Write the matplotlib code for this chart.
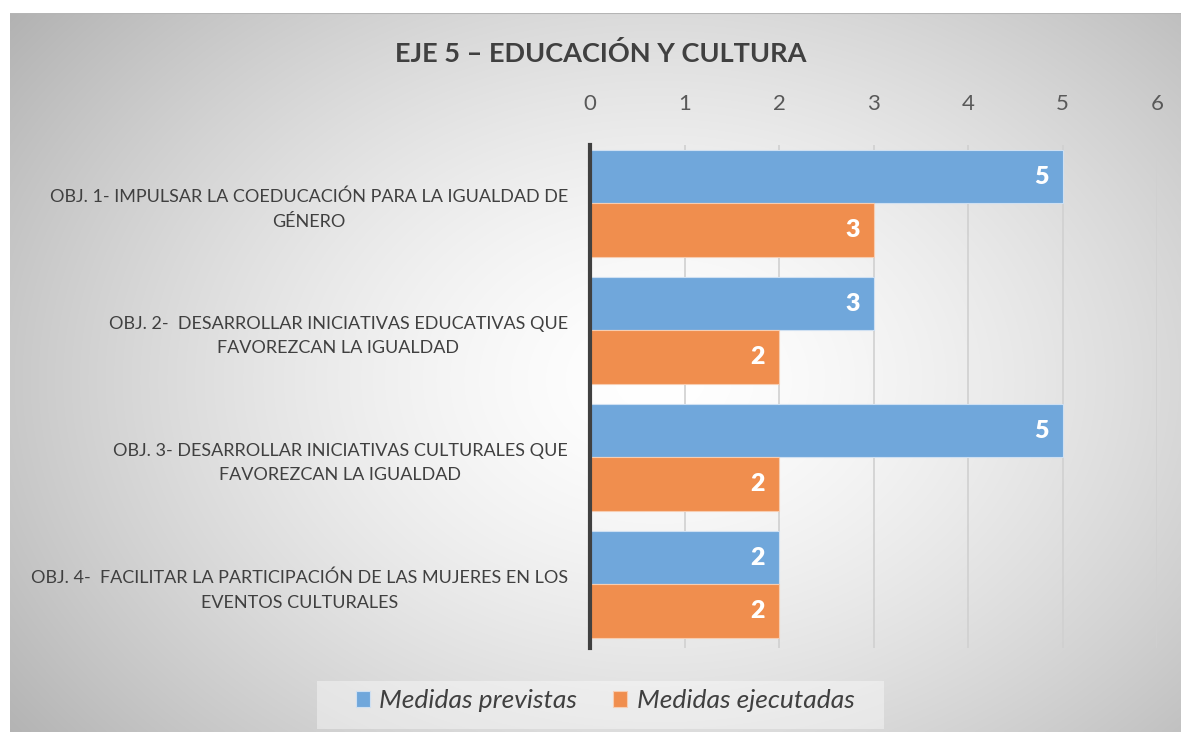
import numpy as np
import matplotlib as mpl
import matplotlib.pyplot as plt
from matplotlib.patches import Rectangle

mpl.rcParams.update({
    "font.family": ["Lato", "DejaVu Sans"],
    "text.color": "#404040",
})

categories = [
    "OBJ. 1- IMPULSAR LA COEDUCACIÓN PARA LA IGUALDAD DE\nGÉNERO",
    "OBJ. 2-  DESARROLLAR INICIATIVAS EDUCATIVAS QUE\nFAVOREZCAN LA IGUALDAD",
    "OBJ. 3- DESARROLLAR INICIATIVAS CULTURALES QUE\nFAVOREZCAN LA IGUALDAD",
    "OBJ. 4-  FACILITAR LA PARTICIPACIÓN DE LAS MUJERES EN LOS\nEVENTOS CULTURALES",
]
previstas = [5, 3, 5, 2]
ejecutadas = [3, 2, 2, 2]
series_names = ["Medidas previstas", "Medidas ejecutadas"]
colors = ["#70A7DB", "#F08E4E"]
title = "EJE 5 – EDUCACIÓN Y CULTURA"

W, H = 1181, 732
fig = plt.figure(figsize=(W / 100, H / 100), dpi=100)
fig.patch.set_facecolor("white")

# background panel with radial gradient
bg = fig.add_axes([10 / W, 0, 1 - 10 / W, 1 - 13 / H], zorder=-10)
px, py = np.meshgrid(np.linspace(10, W, 600), np.linspace(13, H, 400))
r = np.sqrt(((px - 660) / 760) ** 2 + ((py - 380) / 560) ** 2)
shade = 1.0 - 0.27 * np.clip(r, 0, 1.2) ** 1.5
bg.imshow(np.dstack([shade, shade, shade]), aspect="auto", extent=[0, 1, 0, 1],
          interpolation="bilinear")
bg.plot([0, 1], [1, 1], color="#b5b5b5", lw=1.5, transform=bg.transAxes)
bg.set_axis_off()

ax = fig.add_axes([590 / W, 1 - 648 / H, (1157 - 590) / W, (648 - 145) / H])
ax.set_facecolor("none")

y = np.arange(len(categories))
h = 0.42
b1 = ax.barh(y - h / 2, previstas, height=h, color=colors[0], edgecolor="#cfe0f2",
             linewidth=0.8, label=series_names[0], zorder=3)
b2 = ax.barh(y + h / 2, ejecutadas, height=h, color=colors[1], edgecolor="#f7cdb1",
             linewidth=0.8, label=series_names[1], zorder=3)

for bars, vals in ((b1, previstas), (b2, ejecutadas)):
    for bar, v in zip(bars, vals):
        ax.annotate(str(v), (v, bar.get_y() + bar.get_height() / 2),
                    xytext=(-10, 0), textcoords="offset points",
                    ha="right", va="center", color="white",
                    fontsize=18, fontweight="heavy", zorder=4)

ax.set_xlim(0, 6)
ax.set_ylim(3.5, -0.46)
ax.set_xticks(range(7))
ax.xaxis.tick_top()
ax.tick_params(axis="x", length=0, pad=22, labelsize=16, labelcolor="#595959")
ax.set_yticks(y)
ax.set_yticklabels(categories, fontsize=13.0, color="#404040", ha="right",
                   multialignment="center", linespacing=1.65)
ax.tick_params(axis="y", length=0, pad=16)
ax.grid(axis="x", color="#d0d0d0", lw=1.2, zorder=0)
for s in ("top", "right", "bottom"):
    ax.spines[s].set_visible(False)
ax.spines["left"].set_color("#404040")
ax.spines["left"].set_linewidth(3)
ax.spines["left"].set_zorder(5)

fig.text(601 / W, 1 - 53 / H, title, ha="center", va="center",
         fontsize=19.5, fontweight="bold", color="#404040")

# legend box
fig.patches.append(Rectangle((317 / W, 1 - 729 / H), (884 - 317) / W, 48 / H,
                             transform=fig.transFigure, facecolor="white",
                             alpha=0.4, edgecolor="none", zorder=0))
leg = fig.legend(handles=[b1, b2], labels=series_names, loc="center",
                 bbox_to_anchor=(605 / W, 1 - 701 / H), ncol=2, frameon=False,
                 prop={"style": "italic", "size": 19}, handlelength=0.55,
                 handleheight=0.55, handletextpad=0.35, columnspacing=1.35)
for t in leg.get_texts():
    t.set_color("#404040")

fig.savefig("out.png", dpi=100)
